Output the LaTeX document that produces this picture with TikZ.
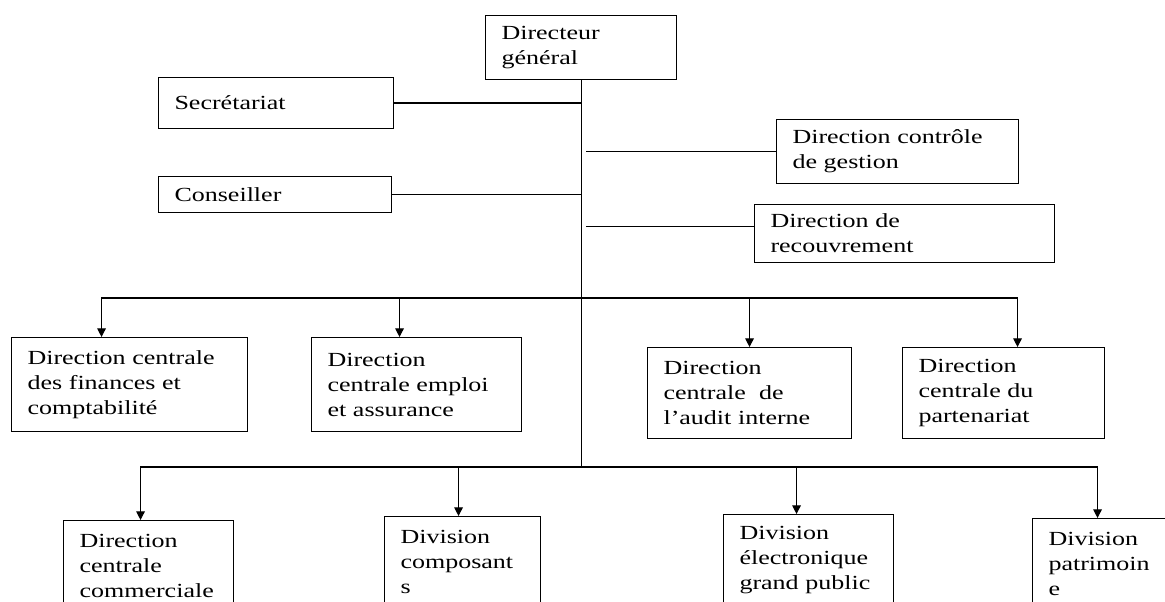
\documentclass[tikz,border=0pt]{standalone}
\usepackage{fontspec}
\setmainfont{Liberation Serif}[FakeStretch=1.3]
\usepackage{tikz}
\usetikzlibrary{arrows.meta}
\tikzset{
  orgbox/.style={rectangle, draw, line width=0.8pt, align=left, anchor=north west,
                 inner xsep=12pt, inner ysep=2pt,
                 font=\fontsize{15pt}{18.75pt}\selectfont},
  link/.style={line width=0.8pt},
  arrow/.style={-{Triangle[width=6.5pt,length=6.5pt]}, line width=0.8pt}
}

\begin{document}
\begin{tikzpicture}[x=0.75pt, y=-0.75pt]

  \useasboundingbox (0,0) rectangle (1165,602);
  \fill[white] (0,0) rectangle (1165,602);
  \clip (0,0) rectangle (1165,602);

  \node[orgbox, text width=119.25pt, minimum height=48pt] (dg) at (485,15)
    {Directeur\\général};

  \node[orgbox, text width=152.25pt, minimum height=38.25pt] (sec) at (158,77)
    {Secrétariat};

  \node[orgbox, text width=150.75pt, minimum height=27pt] (cons) at (158,176)
    {Conseiller};

  \node[orgbox, text width=157.5pt, minimum height=48pt] (ctrl) at (776,119)
    {Direction contrôle\\de gestion};

  \node[orgbox, text width=201pt, minimum height=43.5pt] (rec) at (754,204)
    {Direction de\\recouvrement};

  \node[orgbox, text width=153pt, minimum height=70.5pt] (fin) at (11,337)
    {Direction centrale\\des finances et\\comptabilité};

  \node[orgbox, text width=133.5pt, minimum height=70.5pt] (emp) at (311,337)
    {Direction\\centrale emploi\\et assurance};

  \node[orgbox, text width=129pt, minimum height=68.25pt] (aud) at (647,347)
    {Direction\\centrale\ \ de\\l’audit interne};

  \node[orgbox, text width=127.5pt, minimum height=68.25pt] (part) at (902,347)
    {Direction\\centrale du\\partenariat};

  \node[orgbox, text width=103.5pt, minimum height=68.25pt] (com) at (63,520)
    {Direction\\centrale\\commerciale};

  \node[orgbox, text width=93pt, minimum height=68.25pt] (cps) at (384,516)
    {Division\\composant\\s};

  \node[orgbox, text width=103.5pt, minimum height=68.25pt] (elec) at (723,514)
    {Division\\électronique\\grand public};

  \node[orgbox, text width=88.5pt, minimum height=68.25pt] (pat) at (1032,518)
    {Division\\patrimoin\\e};

  \coordinate (bus1) at (dg.south |- 0,298);
  \coordinate (bus2) at (dg.south |- 0,467);

  \draw[link] (dg.south) -- (bus2);
  \draw[link] (sec.east) -- (sec.east -| dg.south);
  \draw[link] (cons.east) -- (cons.east -| dg.south);
  \draw[link, shorten >=3.5pt] (ctrl.west) -- (ctrl.west -| dg.south);
  \draw[link, shorten >=3.5pt] ([yshift=5pt]rec.west) -- ([yshift=5pt]rec.west -| dg.south);

  \draw[arrow] (bus1) -| ([xshift=-21pt]fin.north);
  \draw[arrow] (bus1) -| ([xshift=-12.75pt]emp.north);
  \draw[arrow] (bus1) -| (aud.north);
  \draw[arrow] (bus1) -| ([xshift=10.5pt]part.north);

  \draw[arrow] (bus2) -| ([xshift=-6pt]com.north);
  \draw[arrow] (bus2) -| ([xshift=-3pt]cps.north);
  \draw[arrow] (bus2) -| ([xshift=-9pt]elec.north);
  \draw[arrow] (bus2) -| ([xshift=-7.5pt]pat.north);

\end{tikzpicture}
\end{document}
